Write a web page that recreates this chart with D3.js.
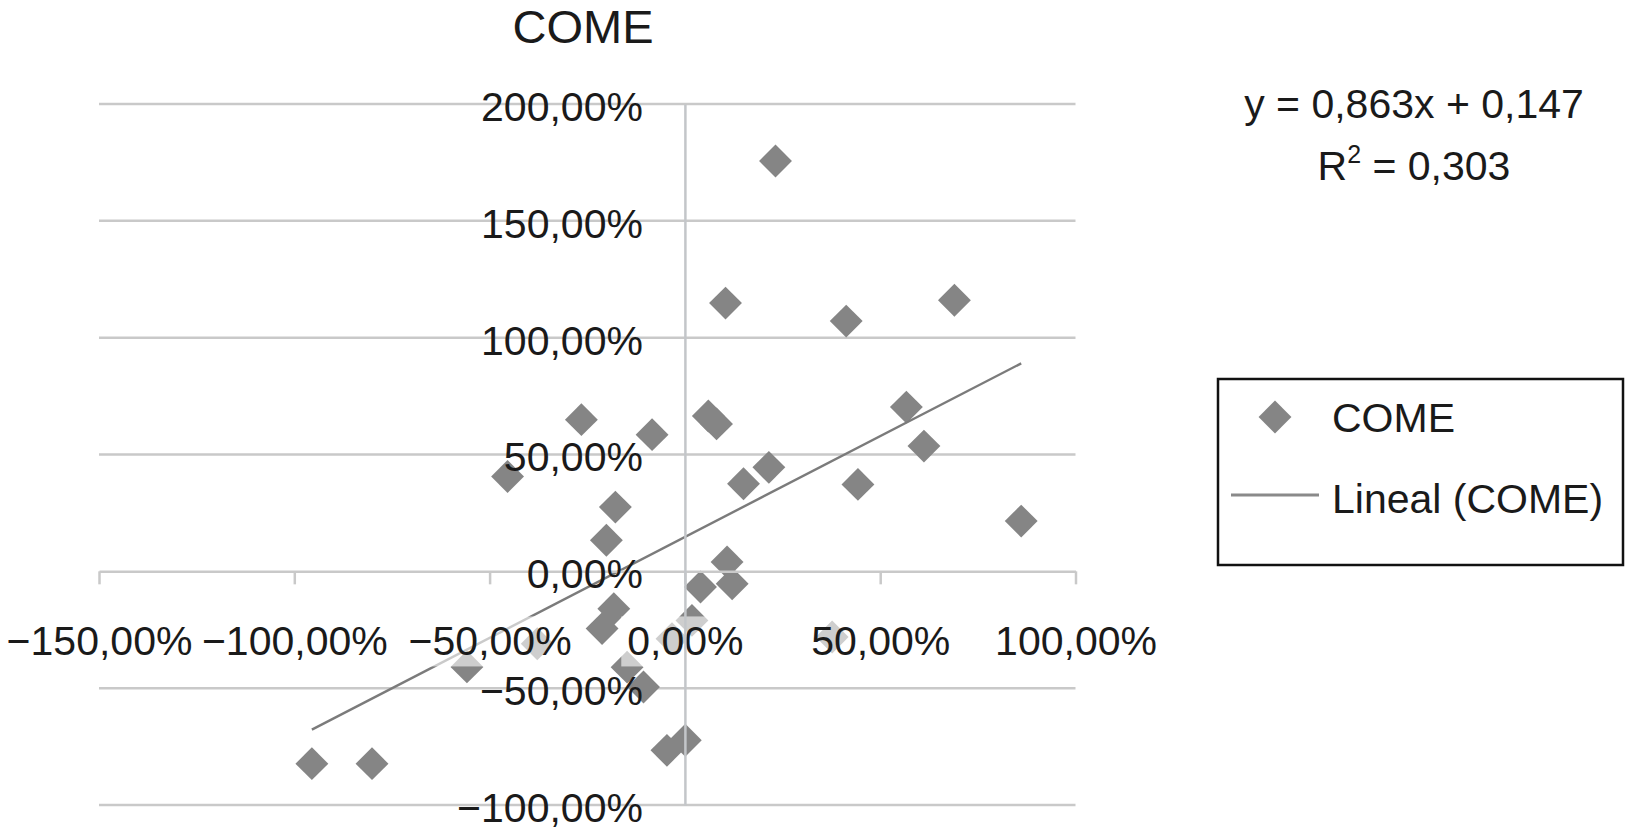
<!DOCTYPE html>
<html>
<head>
<meta charset="utf-8">
<script src="https://cdn.jsdelivr.net/npm/d3@7"></script>
<style>
  html, body { margin: 0; padding: 0; background: #ffffff; }
  svg { display: block; font-family: "Liberation Sans", Arial, Helvetica, sans-serif; }
</style>
</head>
<body>
<svg id="chart" width="1625" height="833"></svg>
<script>
// ---- Data (percent values) ----
const seriesName = "COME";
const trendName = "Lineal (COME)";
const xValues = [23.2, 10.4, 41.3, 69.0, -26.5, -8.4, 6.0, 8.1, 56.7, 61.2, -45.4, 15.0, 21.5, 44.3, 86.1,
                 -17.8, -20.1, 10.8, 4.0, 12.1, -18.2, -21.2, 1.8, -3.3, 37.7, -14.8, -10.6, 0.1, -4.6,
                 -95.5, -80.1, -55.8, -37.8];
const yValues = [175.6, 114.8, 107.1, 116.0, 64.9, 58.5, 66.5, 63.1, 70.3, 53.6, 40.6, 37.5, 44.5, 37.2, 21.5,
                 27.5, 13.3, 4.0, -6.7, -5.3, -16.0, -24.5, -21.0, -28.8, -28.1, -41.0, -49.5, -72.3, -76.6,
                 -82.3, -82.3, -40.9, -31.0];
const xTicks = [-150, -100, -50, 0, 50, 100];
const yTicks = [-100, -50, 0, 50, 100, 150, 200];
const slope = 0.863;
const intercept = 0.147;
const rSquared = "0,303";
const equationText = "y = 0,863x + 0,147";

// ---- Layout ----
const svg = d3.select("#chart");
const fontSize = 41;
const markerColor = "#858585";
const gridColor = "#c9c9c9";

const x = d3.scaleLinear().domain([-150, 100]).range([99, 1075.5]);
const y = d3.scaleLinear().domain([-100, 200]).range([805, 104]);

const fmt = d => (d < 0 ? "\u2212" : "") + Math.abs(d).toFixed(2).replace(".", ",") + "%";

// Title
svg.append("text")
  .attr("x", 583).attr("y", 43)
  .attr("text-anchor", "middle")
  .attr("font-size", 47)
  .attr("fill", "#1a1a1a")
  .text(seriesName);

// Horizontal gridlines
svg.append("g").selectAll("line")
  .data(yTicks.filter(d => d !== 0))
  .join("line")
  .attr("x1", x.range()[0]).attr("x2", x.range()[1])
  .attr("y1", d => y(d)).attr("y2", d => y(d))
  .attr("stroke", gridColor).attr("stroke-width", 2.5);

// Data markers (behind axis labels)
const diamond = d3.symbol().type(d3.symbolSquare).size(540);
const points = xValues.map((v, i) => ({ x: v, y: yValues[i] }));
svg.append("g").selectAll("path")
  .data(points)
  .join("path")
  .attr("d", diamond)
  .attr("transform", d => `translate(${x(d.x)},${y(d.y)}) rotate(45)`)
  .attr("fill", markerColor);

// Trendline from stated regression coefficients over data extent
const xExt = d3.extent(xValues);
const trend = xExt.map(v => ({ x: v, y: (slope * v / 100 + intercept) * 100 }));
svg.append("path")
  .datum(trend)
  .attr("d", d3.line().x(d => x(d.x)).y(d => y(d.y)))
  .attr("fill", "none")
  .attr("stroke", "#7b7b7b")
  .attr("stroke-width", 2.4);

// X axis (at y = 0)
const xAxisG = svg.append("g")
  .attr("transform", `translate(0,${y(0)})`)
  .call(d3.axisBottom(x).tickValues(xTicks).tickFormat(fmt).tickSize(13).tickSizeOuter(0).tickPadding(42));
xAxisG.select(".domain").attr("stroke", gridColor).attr("stroke-width", 2.5);
xAxisG.selectAll(".tick line").attr("stroke", gridColor).attr("stroke-width", 2.5);
xAxisG.selectAll(".tick text")
  .attr("font-size", fontSize)
  .attr("font-family", "'Liberation Sans', Arial, sans-serif")
  .attr("fill", "#1a1a1a");
// semi-transparent label backgrounds (as in the reference)
xAxisG.selectAll(".tick").each(function () {
  const t = d3.select(this).select("text");
  const bb = t.node().getBBox();
  d3.select(this).insert("rect", "text")
    .attr("x", bb.x - 6).attr("y", bb.y - 2)
    .attr("width", bb.width + 12).attr("height", bb.height + 4)
    .attr("fill", "#ffffff").attr("opacity", 0.6);
});

// Y axis (vertical line at x = 0, labels to its left)
const yAxisG = svg.append("g")
  .attr("transform", `translate(${x(0)},0)`)
  .call(d3.axisLeft(y).tickValues(yTicks).tickFormat(fmt).tickSize(0).tickSizeOuter(0).tickPadding(42));
yAxisG.select(".domain").attr("stroke", "#c3c6c9").attr("stroke-width", 2.5);
yAxisG.selectAll(".tick text")
  .attr("font-size", fontSize)
  .attr("font-family", "'Liberation Sans', Arial, sans-serif")
  .attr("dy", "0.4em")
  .attr("fill", "#1a1a1a");

// Regression equation
const eq = svg.append("g").attr("font-size", fontSize).attr("fill", "#1a1a1a").attr("text-anchor", "middle");
eq.append("text").attr("x", 1414).attr("y", 118).text(equationText);
const r2 = eq.append("text").attr("x", 1414).attr("y", 180);
r2.append("tspan").text("R");
r2.append("tspan").attr("font-size", 25).attr("dy", -17).text("2");
r2.append("tspan").attr("dy", 17).text(" = " + rSquared);

// Legend
const lg = svg.append("g");
lg.append("rect")
  .attr("x", 1218).attr("y", 379).attr("width", 405).attr("height", 186)
  .attr("fill", "#ffffff").attr("stroke", "#111111").attr("stroke-width", 2.5);
lg.append("path")
  .attr("d", diamond)
  .attr("transform", "translate(1275,417) rotate(45)")
  .attr("fill", markerColor);
lg.append("text").attr("x", 1332).attr("y", 432).attr("font-size", fontSize).attr("fill", "#1a1a1a").text(seriesName);
lg.append("line")
  .attr("x1", 1231).attr("x2", 1319).attr("y1", 495).attr("y2", 495)
  .attr("stroke", "#8a8a8a").attr("stroke-width", 3);
lg.append("text").attr("x", 1332).attr("y", 513).attr("font-size", fontSize).attr("fill", "#1a1a1a").text(trendName);
</script>
</body>
</html>
